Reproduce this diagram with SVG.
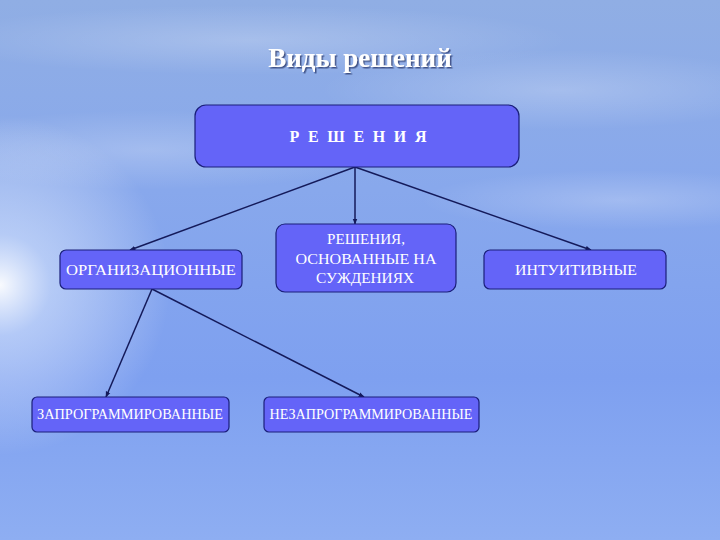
<svg xmlns="http://www.w3.org/2000/svg" width="720" height="540" viewBox="0 0 720 540">
<defs>
<linearGradient id="bg" x1="0" y1="0" x2="0" y2="1">
<stop offset="0" stop-color="#90aee4"/>
<stop offset="0.35" stop-color="#88a8ec"/>
<stop offset="0.7" stop-color="#7ea0f0"/>
<stop offset="1" stop-color="#8eaef2"/>
</linearGradient>
<radialGradient id="glow" cx="0" cy="285" r="170" gradientUnits="userSpaceOnUse">
<stop offset="0" stop-color="#ffffff" stop-opacity="0.95"/>
<stop offset="0.3" stop-color="#e6f0ff" stop-opacity="0.5"/>
<stop offset="1" stop-color="#ffffff" stop-opacity="0"/>
</radialGradient>
<radialGradient id="cloud" cx="0.5" cy="0.5" r="0.5">
<stop offset="0" stop-color="#ffffff" stop-opacity="0.22"/>
<stop offset="1" stop-color="#ffffff" stop-opacity="0"/>
</radialGradient>
<marker id="arr" viewBox="0 0 10 10" refX="9" refY="5" markerWidth="6" markerHeight="6" orient="auto" markerUnits="userSpaceOnUse">
<path d="M0,1 L10,5 L0,9 z" fill="#141a5a"/>
</marker>
<filter id="sh" x="-10%" y="-30%" width="120%" height="160%">
<feDropShadow dx="1.5" dy="1.5" stdDeviation="0.5" flood-color="#2a3a70" flood-opacity="0.8"/>
</filter>
</defs>
<style>
.box{fill:#6464f8;stroke:#1a1f7a;stroke-width:1.2}
.t{font-family:"Liberation Serif","Times New Roman",serif;fill:#ffffff;text-anchor:middle}
.c{stroke:#141a5a;stroke-width:1.5;fill:none;marker-end:url(#arr)}
</style>
<rect width="720" height="540" fill="url(#bg)"/>
<ellipse cx="250" cy="40" rx="320" ry="35" fill="url(#cloud)"/>
<ellipse cx="560" cy="90" rx="240" ry="40" fill="url(#cloud)"/>
<ellipse cx="150" cy="150" rx="240" ry="40" fill="url(#cloud)"/>
<ellipse cx="620" cy="200" rx="200" ry="30" fill="url(#cloud)"/>
<rect width="720" height="540" fill="url(#glow)"/>
<text class="t" x="360" y="67" font-size="27" font-weight="bold" fill="#f4f6ff" filter="url(#sh)">Виды решений</text>
<g id="connectors">
<line class="c" x1="355" y1="167" x2="130" y2="250"/>
<line class="c" x1="355" y1="167" x2="355" y2="224"/>
<line class="c" x1="355" y1="167" x2="591" y2="250"/>
<line class="c" x1="152" y1="289" x2="106" y2="397"/>
<line class="c" x1="152" y1="289" x2="364" y2="397"/>
</g>
<g id="n_root">
<rect class="box" x="195" y="105" width="324" height="62" rx="11"/>
<text class="t" x="358" y="142" font-size="16" font-weight="bold" textLength="137" lengthAdjust="spacing">РЕШЕНИЯ</text>
</g>
<g id="n_org">
<rect class="box" x="60" y="250" width="182" height="39" rx="6"/>
<text class="t" x="151" y="275" font-size="15" textLength="170" lengthAdjust="spacingAndGlyphs">ОРГАНИЗАЦИОННЫЕ</text>
</g>
<g id="n_judg">
<rect class="box" x="276" y="224" width="180" height="68" rx="9"/>
<text class="t" x="366" y="244" font-size="15" textLength="78" lengthAdjust="spacingAndGlyphs">РЕШЕНИЯ,</text>
<text class="t" x="366" y="264" font-size="15" textLength="141" lengthAdjust="spacingAndGlyphs">ОСНОВАННЫЕ НА</text>
<text class="t" x="365" y="283" font-size="15" textLength="98" lengthAdjust="spacingAndGlyphs">СУЖДЕНИЯХ</text>
</g>
<g id="n_int">
<rect class="box" x="484" y="250" width="182" height="39" rx="6"/>
<text class="t" x="576" y="275" font-size="15" textLength="122" lengthAdjust="spacingAndGlyphs">ИНТУИТИВНЫЕ</text>
</g>
<g id="n_prog">
<rect class="box" x="32" y="397" width="197" height="35" rx="5"/>
<text class="t" x="130" y="419" font-size="14" textLength="186" lengthAdjust="spacingAndGlyphs">ЗАПРОГРАММИРОВАННЫЕ</text>
</g>
<g id="n_nonprog">
<rect class="box" x="264" y="397" width="215" height="35" rx="5"/>
<text class="t" x="371" y="419" font-size="14" textLength="203" lengthAdjust="spacingAndGlyphs">НЕЗАПРОГРАММИРОВАННЫЕ</text>
</g>
</svg>
